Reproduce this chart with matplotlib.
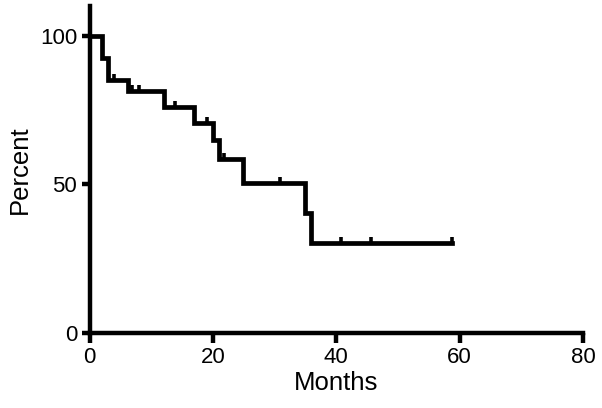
import numpy as np
import matplotlib
matplotlib.use("Agg")
import matplotlib.pyplot as plt

# survival curve (months, percent)
step_times = [0, 2, 3, 6.2, 12.1, 17, 20.1, 21, 24.9, 34.9, 35.9]
step_surv = [100, 92.6, 85.2, 81.3, 75.9, 70.5, 64.8, 58.6, 50.3, 40.4, 30.3]
end_time = 58.7
censor_times = [4, 6.9, 8, 13.9, 19, 21.8, 30.9, 40.7, 45.7, 58.7]

plt.rcParams["font.family"] = ["Liberation Sans", "DejaVu Sans"]

fig = plt.figure(figsize=(6.02, 4.08), dpi=100)
ax = fig.add_axes([0.1487, 0.1838, 0.8197, 0.8015])

t = np.array(step_times + [end_time])
s = np.array(step_surv + [step_surv[-1]])
ax.step(t, s, where="post", color="black", lw=3.4, solid_joinstyle="miter", clip_on=False, zorder=3)

# censor marks sit on the curve value at each time
cs = [s[np.searchsorted(t, c, side="right") - 1] for c in censor_times]
ax.plot(censor_times, cs, ls="none", marker=2, ms=4.5, mew=2.6, color="black", clip_on=False, zorder=3)

ax.set_xlim(0, 80)
ax.set_ylim(0, 110)
ax.set_xticks([0, 20, 40, 60, 80])
ax.set_yticks([0, 50, 100])
for sp in ["top", "right"]:
    ax.spines[sp].set_visible(False)
for sp in ["left", "bottom"]:
    ax.spines[sp].set_linewidth(3.2)
ax.tick_params(axis="x", length=7, width=3.2, labelsize=16, pad=3)
ax.tick_params(axis="y", length=6, width=3.2, labelsize=16, pad=3)
ax.set_xlabel("Months", fontsize=18.5, labelpad=2)
ax.set_ylabel("Percent", fontsize=18.5, labelpad=6)

fig.savefig("out.png", dpi=100)
